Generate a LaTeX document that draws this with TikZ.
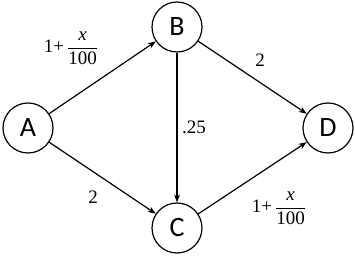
\documentclass[tikz,border=0pt]{standalone}
\usepackage{amsmath}
\usepackage{fontspec}
\setmainfont{Liberation Serif}
\newfontfamily\vertexfont{Carlito}
\newfontfamily\weightfont{Liberation Serif}
\usetikzlibrary{arrows.meta}

\begin{document}
\begin{tikzpicture}[x=1pt, y=1pt,
  vertex/.style={circle, draw, line width=1.2pt, minimum size=50pt, inner sep=0pt,
    font=\vertexfont\fontsize{28}{30}\selectfont},
  edge/.style={draw, line width=1.2pt, -{Stealth[length=8pt, width=6pt]}},
  weight/.style={font=\weightfont\fontsize{19}{22}\selectfont}]
  \useasboundingbox (0,0) rectangle (355,256);
  % Knoten
  \node[vertex] (A) at (28,128) {A};
  \node[vertex] (B) at (177,229) {B};
  \node[vertex] (C) at (177,28) {C};
  \node[vertex] (D) at (328,128) {D};

  \draw[edge] (A) -- (B);
  \draw[edge] (A) -- (C);
  \draw[edge] (B) -- (C);
  \draw[edge] (B) -- (D);
  \draw[edge] (C) -- (D);

  \node[weight] (wab) at (71,208) {1+\,$\dfrac{\text{\weightfont\itshape x}}{\text{\weightfont 100}}$};
  \node[weight] (wac) at (93,59) {2};
  \node[weight] (wbc) at (194,129) {.25};
  \node[weight] (wbd) at (260,196) {2};
  \node[weight] (wcd) at (279,48) {1+\,$\dfrac{\text{\weightfont\itshape x}}{\text{\weightfont 100}}$};
\end{tikzpicture}
\end{document}
